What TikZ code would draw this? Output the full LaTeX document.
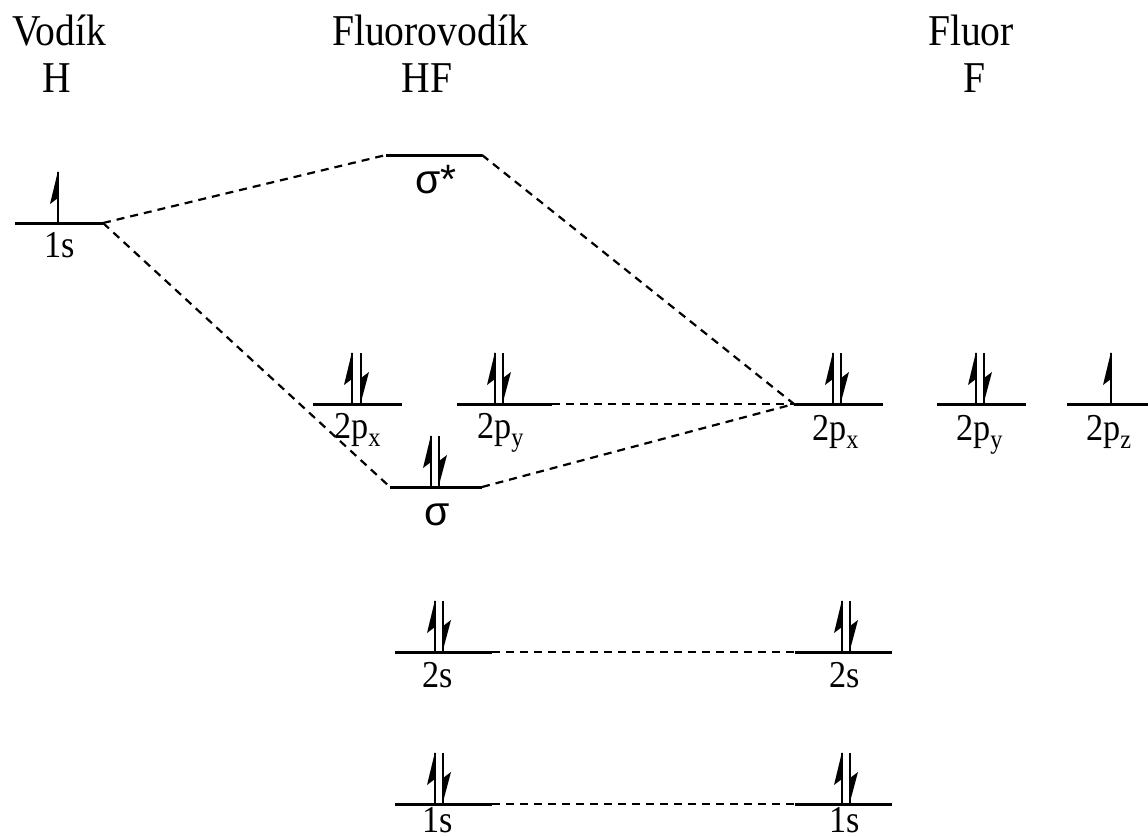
\documentclass[tikz,border=0pt]{standalone}
\usepackage{fontspec}
\setmainfont{Liberation Serif}
\newfontfamily\sigmafont{Liberation Sans}
\newfontfamily\titlefont{Liberation Serif}[FakeStretch=0.9]
\tikzset{
  levelline/.style={line width=3pt},
  spinline/.style={line width=2pt},
  conn/.style={line width=2.2pt, dash pattern=on 8pt off 6pt},
  title/.style={anchor=base, inner sep=0pt, font=\titlefont\fontsize{44}{50}\selectfont},
  lab/.style={anchor=base, inner sep=0pt, font=\titlefont\fontsize{38}{44}\selectfont},
  labw/.style={anchor=base west, inner sep=0pt, font=\titlefont\fontsize{38}{44}\selectfont},
  siglab/.style={anchor=base, inner sep=0pt, font=\sigmafont\fontsize{41}{46}\selectfont},
}
\newcommand\mlevel[4]{%
  \coordinate (#1-l) at (#2,#4);
  \coordinate (#1-r) at (#3,#4);
  \draw[levelline] (#1-l) -- (#1-r);}
\newcommand\spinup[2]{%
  \draw[spinline] (#1,#2) -- ++(0,-51);
  \fill (#1,#2-52) -- ++(-8,33) -- ++(8,-6) -- cycle;}
\newcommand\spindown[2]{%
  \draw[spinline] (#1,#2) -- ++(0,-51);
  \fill (#1,#2-2) -- ++(8,-30) -- ++(-8,6) -- cycle;}
\newcommand\subx[1]{\raisebox{-8pt}{\fontsize{27}{27}\selectfont #1}}
\begin{document}
\begin{tikzpicture}[x=1pt,y=-1pt]
\useasboundingbox (0,0) rectangle (1148,836);
\fill[white] (0,0) rectangle (1148,836);
% titles
\node[title] (tH) at (59,45) {Vodík};
\node[title] (tH2) at (57,92) {H};
\node[title] (tHF) at (430,45) {Fluorovodík};
\node[title] (tHF2) at (427,92) {HF};
\node[title] (tF) at (971,45) {Fluor};
\node[title] (tF2) at (974,92) {F};
% levels
\mlevel{h1s}{15}{103}{223}
\mlevel{sigs}{386}{482}{155}
\mlevel{hfpx}{313}{402}{404}
\mlevel{hfpy}{457}{552}{404}
\mlevel{sig}{390}{482}{487}
\mlevel{hf2s}{395}{492}{652}
\mlevel{hf1s}{395}{492}{804}
\mlevel{fpx}{794}{883}{404}
\mlevel{fpy}{937}{1026}{404}
\mlevel{fpz}{1067}{1150}{404}
\mlevel{f2s}{795}{892}{652}
\mlevel{f1s}{795}{892}{804}
% spins
\spinup{58}{223}
\spinup{352}{404}\spindown{361}{404}
\spinup{495}{404}\spindown{503}{404}
\spinup{431}{487}\spindown{439}{487}
\spinup{435}{652}\spindown{443}{652}
\spinup{435}{804}\spindown{443}{804}
\spinup{833}{404}\spindown{841}{404}
\spinup{976}{404}\spindown{984}{404}
\spinup{1111}{404}
\spinup{842}{652}\spindown{850}{652}
\spinup{842}{804}\spindown{850}{804}
% connectors
\draw[conn] (h1s-r) -- (sigs-l);
\draw[conn] (h1s-r) -- (sig-l);
\draw[conn] (sigs-r) -- (fpx-l);
\draw[conn] (sig-r) -- (fpx-l);
\draw[conn] (hfpy-r) -- (fpx-l);
\draw[conn] (hf2s-r) -- (f2s-l);
\draw[conn] (hf1s-r) -- (f1s-l);
% labels
\node[lab] (l1) at (60,257) {1s};
\node[siglab] (l2) at (436,193) {σ*};
\node[labw] (l3) at (334,438) {2p\subx{x}};
\node[labw] (l4) at (477,438) {2p\subx{y}};
\node[siglab] (l5) at (437,525) {σ};
\node[lab] (l6) at (438,687) {2s};
\node[lab] (l7) at (438,832) {1s};
\node[labw] (l8) at (812,440) {2p\subx{x}};
\node[labw] (l9) at (956,440) {2p\subx{y}};
\node[labw] (l10) at (1086,440) {2p\subx{z}};
\node[lab] (l11) at (845,687) {2s};
\node[lab] (l12) at (845,832) {1s};
\end{tikzpicture}
\end{document}
